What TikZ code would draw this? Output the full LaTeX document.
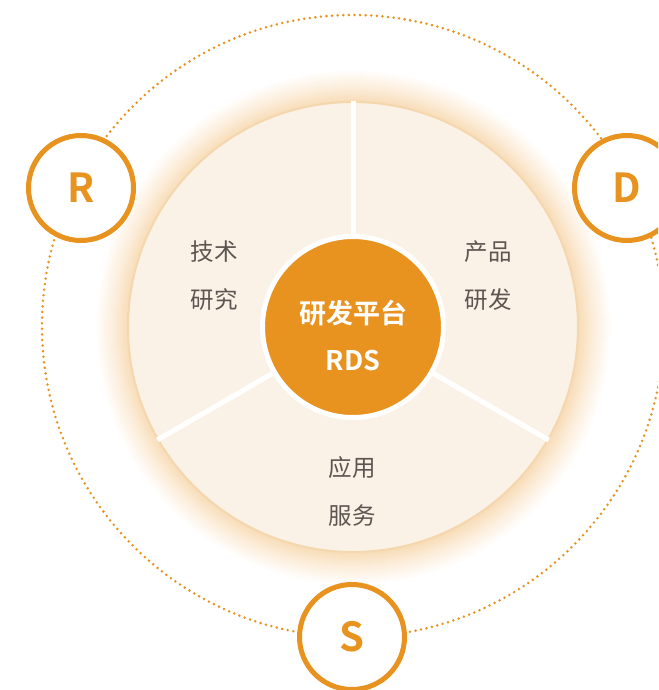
\documentclass[tikz,border=0pt]{standalone}
\usepackage{fontspec}
\setmainfont{Noto Sans CJK SC}
\newfontfamily\cjkbold{Noto Sans CJK SC Bold}
\definecolor{orng}{HTML}{E8921F}
\definecolor{discfill}{HTML}{FBF2E7}
\definecolor{discedge}{HTML}{F5D7AE}
\definecolor{glowc}{HTML}{F8DDB9}
\definecolor{glowm}{HTML}{FCEDDA}
\definecolor{txtgray}{HTML}{5B5651}
\pgfdeclareradialshading{glow}{\pgfpoint{0bp}{0bp}}{color(0bp)=(glowc); color(21.9bp)=(glowc); color(23.2bp)=(glowm); color(25bp)=(white); color(50bp)=(white)}
\tikzset{
  ring/.style={circle, draw=orng, line width=5pt, fill=white, minimum size=105pt, inner sep=0pt,
    text=orng, font=\cjkbold\fontsize{40}{40}\selectfont},
  divider/.style={draw=white, line width=5pt},
  lbl/.style={align=center, text=txtgray, font=\fontsize{23.5}{48}\selectfont},
  dots/.style={draw=orng, line width=2.8pt, line cap=round, dash pattern=on 0pt off 5.6pt}
}
\begin{document}
\begin{tikzpicture}[x=1pt,y=-1pt]
\useasboundingbox (0,0) rectangle (658,690);
\begin{scope}
\clip (0,0) rectangle (658,690);
% glow
\shade[shading=glow] (353,327) circle[radius=258];
% dotted orbit
\coordinate (o) at (353,326);
\draw[dots] (o) circle[radius=311];
% main disc
\node[circle, fill=discfill, draw=discedge, line width=2pt, minimum size=450pt, inner sep=0pt] (disc) at (353,327) {};
% center
\node[circle, fill=orng, draw=white, line width=5pt, minimum size=181pt, inner sep=0pt] (core) at (353,327) {};
\draw[divider] (core.90) -- (disc.90);
\draw[divider] (core.210) -- (disc.210);
\draw[divider] (core.330) -- (disc.330);
\node[text=white, align=center, font=\cjkbold\fontsize{27}{47}\selectfont] (coretxt) at (353,335) {研发平台\\RDS};
% labels
\node[lbl] (l1) at (214,276) {技术\\研究};
\node[lbl] (l2) at (488,276) {产品\\研发};
\node[lbl] (l3) at (352,491) {应用\\服务};
% rings
\node[ring] (R) at (81,188) {R};
\node[ring] (D) at (627,188) {D};
\node[ring] (S) at (352,637) {S};
\end{scope}
\end{tikzpicture}
\end{document}
